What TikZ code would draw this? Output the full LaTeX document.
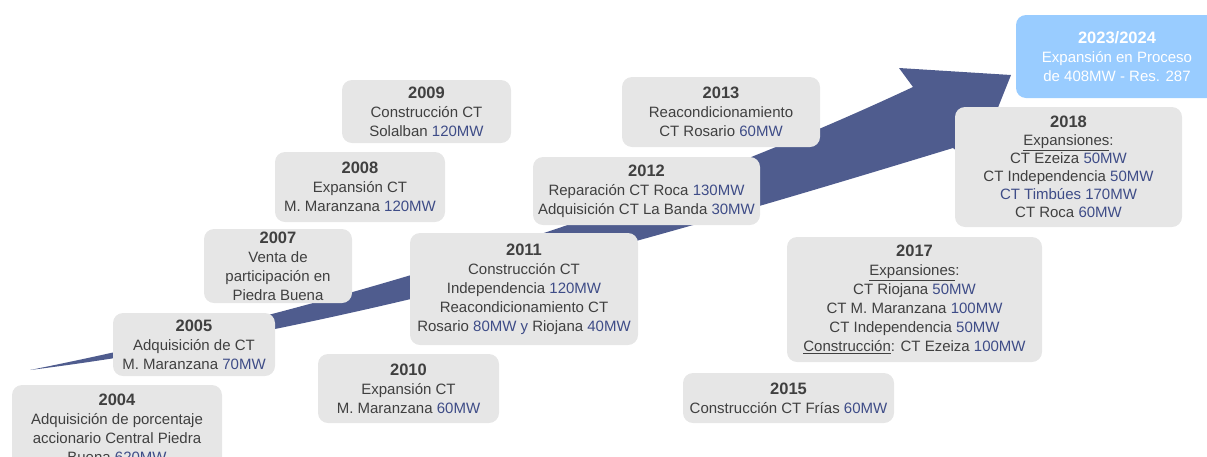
\documentclass[tikz,border=0pt]{standalone}
\usepackage{fontspec}
\setmainfont{Liberation Sans}

\definecolor{cajagris}{RGB}{230,230,230}
\definecolor{textogris}{RGB}{64,64,64}
\definecolor{mwazul}{RGB}{62,76,135}
\definecolor{flechaazul}{RGB}{79,92,142}
\definecolor{celeste}{RGB}{153,204,255}

\newcommand{\mw}[1]{\textcolor{mwazul}{#1}}
\newcommand{\anio}[1]{{\fontsize{16.5}{19}\selectfont\bfseries #1}}

\tikzset{
	hito/.style={fill=cajagris, rounded corners=10pt, align=center, text=textogris, inner sep=0pt, font=\fontsize{15}{19}\selectfont},
	hitoazul/.style={hito, fill=celeste, text=white}
}

\begin{document}
\begin{tikzpicture}[x=1pt, y=-1pt]
					\useasboundingbox (0, 0) rectangle (1207, 456);
					% flecha de crecimiento
					\fill[flechaazul] (30, 370) .. controls (330, 310) and (650, 210) .. (913, 87) -- (899, 68) -- (1011, 75) -- (975, 165) -- (953, 148) .. controls (700, 225) and (350, 330) .. (30, 370) -- cycle;
					% hitos
					\node[hito, minimum width=210, minimum height=86] (h2004) at (117, 428) {\anio{2004}\\ Adquisición de porcentaje\\ accionario Central Piedra\\ Buena \mw{620MW}};
					\node[hito, minimum width=162, minimum height=63] (h2005) at (194, 344.5) {\anio{2005}\\ Adquisición de CT\\ M. Maranzana \mw{70MW}};
					\node[hito, minimum width=148, minimum height=74] (h2007) at (278, 266) {\anio{2007}\\ Venta de\\ participación en\\ Piedra Buena};
					\node[hito, minimum width=170, minimum height=70] (h2008) at (360, 187) {\anio{2008}\\ Expansión CT\\ M. Maranzana \mw{120MW}};
					\node[hito, minimum width=169, minimum height=63] (h2009) at (426.5, 111.5) {\anio{2009}\\ Construcción CT\\ Solalban \mw{120MW}};
					\node[hito, minimum width=181, minimum height=69] (h2010) at (408.5, 388.5) {\anio{2010}\\ Expansión CT\\ M. Maranzana \mw{60MW}};
					\node[hito, minimum width=228, minimum height=112] (h2011) at (524, 289) {\anio{2011}\\ Construcción CT\\ Independencia \mw{120MW}\\ Reacondicionamiento CT\\ Rosario \mw{80MW} \mw{ y} Riojana \mw{40MW}};
					\node[hito, minimum width=227, minimum height=68] (h2012) at (646.5, 191) {\anio{2012}\\ Reparación CT Roca \mw{130MW}\\ Adquisición CT La Banda \mw{30MW}};
					\node[hito, minimum width=198, minimum height=70] (h2013) at (721, 112) {\anio{2013}\\ Reacondicionamiento\\ CT Rosario \mw{60MW}};
					\node[hito, minimum width=211, minimum height=50] (h2015) at (788.5, 398) {\anio{2015}\\ Construcción CT Frías \mw{60MW}};
					\node[hito, minimum width=255, minimum height=125] (h2017) at (914.5, 299.5) {\anio{2017}\\ \underline{Expansiones}:\\ CT Riojana \mw{50MW}\\ CT M. Maranzana \mw{100MW}\\ CT Independencia \mw{50MW}\\ \underline{Construcción}: CT Ezeiza \mw{100MW}};
					\node[hito, minimum width=227, minimum height=120, font=\fontsize{15}{18}\selectfont] (h2018) at (1068.5, 167) {\anio{2018}\\ \underline{Expansiones}:\\ CT Ezeiza \mw{50MW}\\ CT Independencia \mw{50MW}\\ \mw{CT Timbúes 170MW}\\ CT Roca \mw{60MW}};
					\node[hitoazul, minimum width=202, minimum height=83] (h2023) at (1117, 56.5) {\anio{2023/2024}\\ Expansión en Proceso\\ de 408MW - Res. 287};
				\end{tikzpicture}
\end{document}
